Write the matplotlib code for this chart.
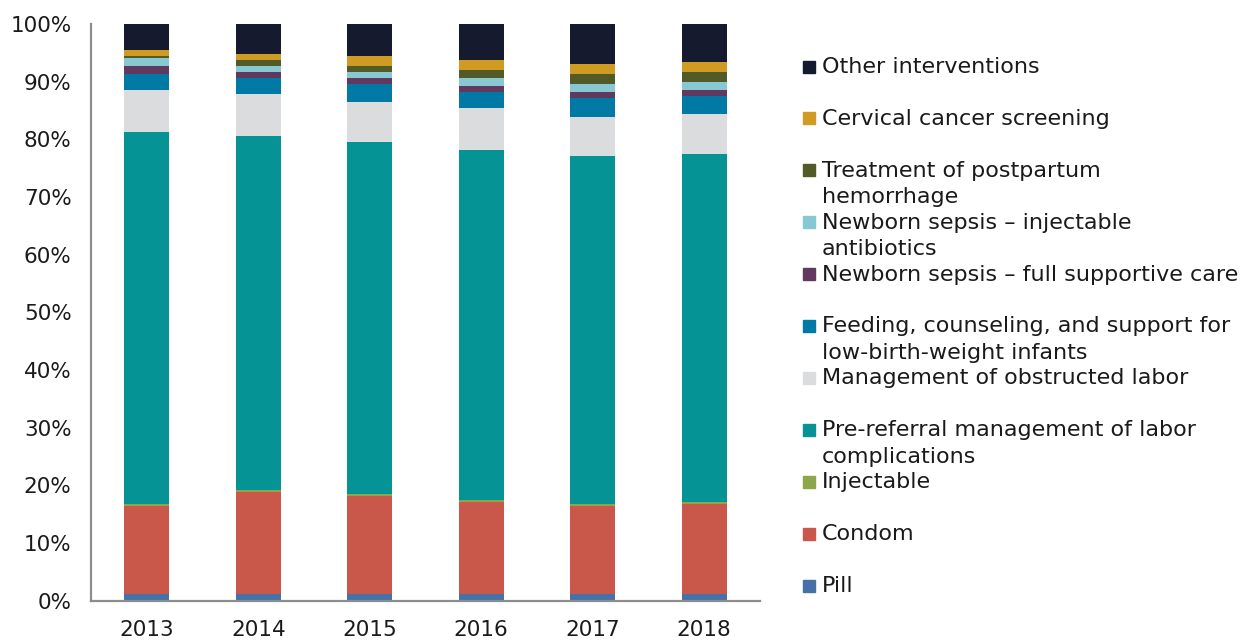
import matplotlib
matplotlib.use("Agg")
import matplotlib.pyplot as plt
import numpy as np
from matplotlib.patches import Rectangle
from matplotlib.ticker import PercentFormatter

years = ["2013", "2014", "2015", "2016", "2017", "2018"]

# stacked shares (%) from bottom to top
pill          = [1.1, 1.1, 1.1, 1.1, 1.1, 1.1]
condom        = [15.3, 17.7, 17.0, 16.0, 15.3, 15.6]
injectable    = [0.4, 0.4, 0.4, 0.3, 0.4, 0.4]
pre_referral  = [64.5, 61.4, 61.0, 60.7, 60.3, 60.3]
obstructed    = [7.2, 7.3, 7.0, 7.3, 6.8, 7.0]
feeding_lbw   = [2.8, 2.7, 3.1, 2.8, 3.3, 3.1]
sepsis_full   = [1.4, 1.1, 1.0, 1.0, 1.0, 1.1]
sepsis_inj    = [1.4, 1.0, 1.1, 1.4, 1.4, 1.3]
pph           = [0.3, 1.1, 1.0, 1.4, 1.7, 1.8]
cervical      = [1.1, 1.0, 1.7, 1.8, 1.8, 1.7]
other         = [4.5, 5.2, 5.6, 6.2, 6.9, 6.6]

series = [
    ("Pill", pill, "#4571a8"),
    ("Condom", condom, "#c9574a"),
    ("Injectable", injectable, "#8ba64b"),
    ("Pre-referral management of labor\ncomplications", pre_referral, "#069395"),
    ("Management of obstructed labor", obstructed, "#dbdcde"),
    ("Feeding, counseling, and support for\nlow-birth-weight infants", feeding_lbw, "#0079a5"),
    ("Newborn sepsis \u2013 full supportive care", sepsis_full, "#62395e"),
    ("Newborn sepsis \u2013 injectable\nantibiotics", sepsis_inj, "#88c8d3"),
    ("Treatment of postpartum\nhemorrhage", pph, "#525a27"),
    ("Cervical cancer screening", cervical, "#cf9b22"),
    ("Other interventions", other, "#151a2e"),
]

plt.rcParams['font.family'] = ['DejaVu Sans']

fig = plt.figure(figsize=(12.52, 6.42), dpi=100)
ax = fig.add_axes([0.0727, 0.0646, 0.5343, 0.898])

x = np.arange(len(years))
bottom = np.zeros(len(years))
for name, vals, color in series:
    ax.bar(x, vals, width=0.4, bottom=bottom, color=color, label=name)
    bottom += np.array(vals)

ax.set_xlim(-0.5, len(years) - 0.5)
ax.set_ylim(0, 100)
ax.set_yticks(np.arange(0, 101, 10))
ax.yaxis.set_major_formatter(PercentFormatter(decimals=0))
ax.set_xticks(x)
ax.set_xticklabels(years)
ax.tick_params(axis='both', length=0, labelsize=15.5, colors='#1a1a1a', pad=14)
for s in ['top', 'right']:
    ax.spines[s].set_visible(False)
for s in ['left', 'bottom']:
    ax.spines[s].set_color('#8c8c8c')
    ax.spines[s].set_linewidth(1.6)

# legend drawn manually: top entry is the last series
W, H = fig.get_size_inches() * fig.dpi
top_y = 66
step = 51.9
for i, (name, vals, color) in enumerate(reversed(series)):
    yc = top_y + i * step
    fig.patches.append(Rectangle((803 / W, 1 - (yc + 6.5) / H), 12 / W, 12 / H,
                                 transform=fig.transFigure, color=color))
    fig.text(822 / W, 1 - (yc - 9) / H, name, fontsize=16, color='#1a1a1a',
             va='top', ha='left', linespacing=1.4)

fig.savefig("out.png", dpi=100)
